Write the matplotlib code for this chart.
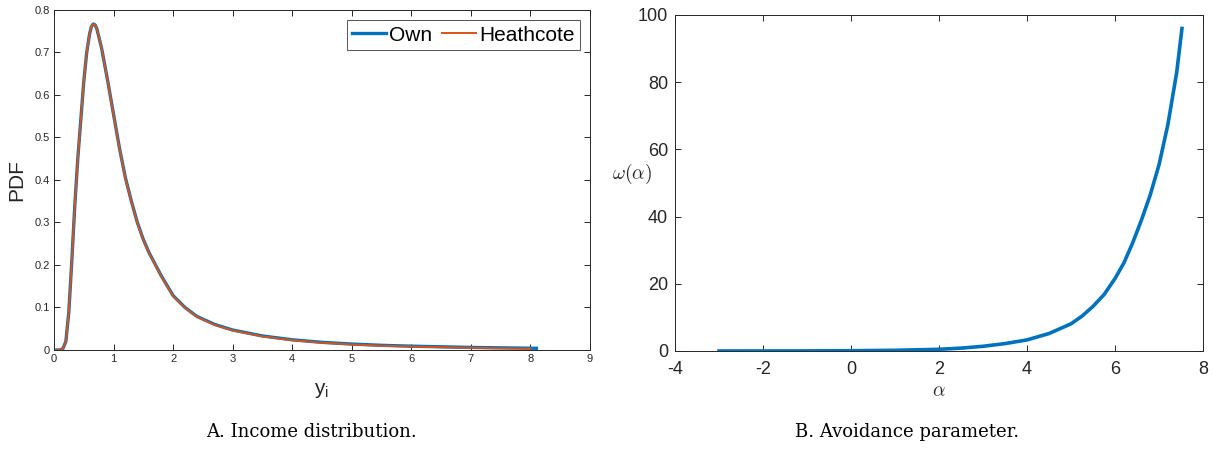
import matplotlib
matplotlib.use('Agg')
import matplotlib.pyplot as plt
from matplotlib.ticker import FuncFormatter

# panel A: income distribution
income_x = [0.05, 0.1, 0.15, 0.2, 0.25, 0.3, 0.35, 0.4, 0.45, 0.5, 0.55, 0.6, 0.63, 0.66,
            0.69, 0.72, 0.8, 0.9, 1.0, 1.1, 1.2, 1.3, 1.4, 1.5, 1.6, 1.8, 2.0, 2.2, 2.4,
            2.7, 3.0, 3.5, 4.0, 4.5, 5.0, 5.5, 6.0, 7.0, 8.1]
pdf_own = [0.0, 0.0, 0.003, 0.02, 0.09, 0.21, 0.34, 0.45, 0.54, 0.63, 0.70, 0.745, 0.761, 0.767,
           0.765, 0.756, 0.71, 0.635, 0.555, 0.475, 0.405, 0.35, 0.30, 0.26, 0.228, 0.175, 0.128, 0.10, 0.079,
           0.060, 0.047, 0.033, 0.024, 0.018, 0.014, 0.011, 0.009, 0.006, 0.004]
pdf_heathcote = [0.0, 0.0, 0.003, 0.02, 0.09, 0.21, 0.34, 0.45, 0.54, 0.63, 0.70, 0.745, 0.761, 0.767,
                 0.765, 0.756, 0.71, 0.635, 0.554, 0.474, 0.404, 0.349, 0.299, 0.259, 0.227, 0.174, 0.127, 0.099,
                 0.078, 0.059, 0.046, 0.032, 0.023, 0.017, 0.013, 0.010, 0.008, 0.005, 0.003]
series_names = ['Own', 'Heathcote']

# panel B: avoidance parameter
alpha = [-3, -2, -1, 0, 1, 2, 2.5, 3, 3.5, 4, 4.5, 5, 5.25, 5.5, 5.75, 6, 6.2,
         6.4, 6.6, 6.8, 7.0, 7.2, 7.4, 7.52]
omega = [0.0, 0.01, 0.03, 0.08, 0.2, 0.5, 0.85, 1.4, 2.2, 3.3, 5.2, 8.1, 10.4, 13.3,
         16.8, 21.6, 26.2, 32.2, 39.0, 46.5, 55.5, 67.4, 82.9, 96.0]

captions = ['A. Income distribution.', 'B. Avoidance parameter.']

BLUE = '#0072BD'
ORANGE = '#D95319'
AXC = '#262626'


def matlab_axes(ax, fsize, xpad, ypad):
    for sp in ax.spines.values():
        sp.set_color(AXC)
        sp.set_linewidth(0.7)
    ax.tick_params(direction='in', top=True, right=True, length=4.5, width=0.7,
                   colors=AXC, labelsize=fsize)
    ax.tick_params(axis='x', pad=xpad)
    ax.tick_params(axis='y', pad=ypad)
    ax.xaxis.set_major_formatter(FuncFormatter(lambda v, p: '%g' % v))
    ax.yaxis.set_major_formatter(FuncFormatter(lambda v, p: '%g' % v))


def main():
    plt.rcParams['font.family'] = ['Liberation Sans', 'DejaVu Sans']
    plt.rcParams['mathtext.fontset'] = 'cm'

    fig = plt.figure(figsize=(12.15, 4.53), dpi=100)

    # left panel
    ax1 = fig.add_axes([0.0444, 0.2274, 0.4412, 0.7506])
    ax1.plot(income_x, pdf_own, color=BLUE, lw=2.4, label=series_names[0])
    ax1.plot(income_x[:-1] + [8.0], pdf_heathcote, color=ORANGE, lw=1.4, label=series_names[1])
    ax1.set_xlim(0, 9)
    ax1.set_ylim(0, 0.8)
    ax1.set_xticks(range(0, 10))
    ax1.set_yticks([i / 10 for i in range(9)])
    matlab_axes(ax1, 8, 3, 3)
    ax1.set_ylabel('PDF', fontsize=15, color=AXC, labelpad=6)
    ax1.set_xlabel(r'$\mathregular{y_i}$', fontsize=15, color=AXC, labelpad=12)
    leg = ax1.legend(loc='upper right', ncol=2, fontsize=15, frameon=True, fancybox=False,
                     handlelength=1.6, handletextpad=0.15, columnspacing=0.5,
                     borderpad=0.25, borderaxespad=0.5)
    leg.get_frame().set_edgecolor(AXC)
    leg.get_frame().set_linewidth(0.7)

    # right panel
    ax2 = fig.add_axes([0.5556, 0.2252, 0.4346, 0.7417])
    ax2.plot(alpha, omega, color=BLUE, lw=2.6)
    ax2.set_xlim(-4, 8)
    ax2.set_ylim(0, 100)
    ax2.set_xticks(range(-4, 9, 2))
    ax2.set_yticks(range(0, 101, 20))
    matlab_axes(ax2, 13, 7, 5)
    ax2.set_ylabel(r'$\omega(\alpha)$', fontsize=14, color=AXC, rotation=0)
    ax2.yaxis.label.set_ha('center')
    ax2.yaxis.label.set_va('center')
    ax2.yaxis.set_label_coords(-0.081, 0.527)
    ax2.set_xlabel(r'$\alpha$', fontsize=14, color=AXC, labelpad=4)

    # captions under each panel
    fig.text(311 / 1215, 1 - 432 / 453, captions[0], ha='center', va='center',
             fontsize=13, family='DejaVu Serif', color='black')
    fig.text(907 / 1215, 1 - 432 / 453, captions[1], ha='center', va='center',
             fontsize=13, family='DejaVu Serif', color='black')

    fig.savefig('out.png', dpi=100)


if __name__ == "__main__":
    main()
